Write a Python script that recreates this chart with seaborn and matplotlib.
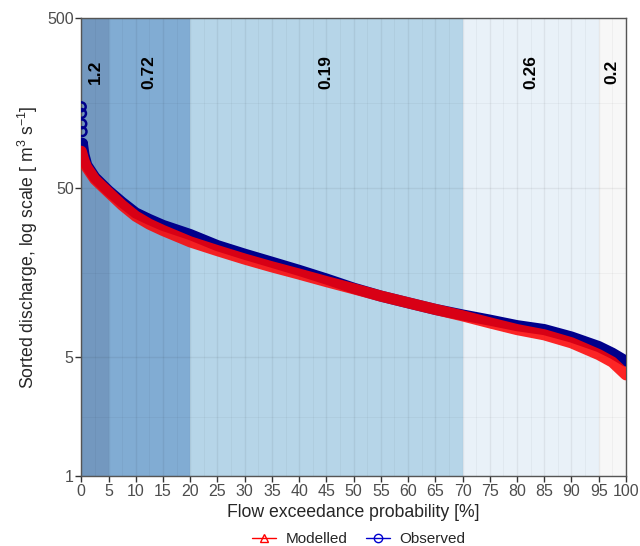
import numpy as np
import pandas as pd
import matplotlib
matplotlib.use("Agg")
import matplotlib.pyplot as plt
from matplotlib.lines import Line2D
import seaborn as sns

# exceedance probability [%] and sorted discharge
obs_p = [0, 0.05, 0.1, 0.15, 0.2, 0.5, 1, 2.5, 5, 7.5, 10, 12.5, 15, 20, 25, 30, 35,
         40, 45, 50, 55, 60, 65, 70, 75, 80, 85, 90, 95, 97.5, 100]
obs_q = [150, 137, 119, 107, 91, 78, 68, 57.5, 48, 41, 35.5, 32.5, 30, 26.5, 22.8, 20.3, 18.2,
         16.3, 14.5, 12.8, 11.5, 10.5, 9.6, 8.9, 8.3, 7.7, 7.3, 6.6, 5.8, 5.3, 4.75]
mod_p = [0, 0.5, 1, 2.5, 5, 7.5, 10, 12.5, 15, 20, 25, 30, 35, 40, 45, 50, 55, 60,
         65, 70, 75, 80, 85, 90, 95, 97.5, 100]
mod_q = [82, 72, 66, 56, 47, 39.5, 34, 30.5, 28, 24, 21.3, 19, 17.1, 15.5, 14, 12.7, 11.5, 10.5,
         9.6, 8.8, 8.0, 7.3, 6.8, 6.1, 5.2, 4.7, 3.95]

# flow segments and their labels
seg_lo = [0, 5, 20, 70, 95]
seg_hi = [5, 20, 70, 95, 100]
seg_lab = ["1.2", "0.72", "0.19", "0.26", "0.2"]
seg_col = ["#7398bf", "#81acd3", "#b6d5e8", "#e9f1f8", "#f7f7f7"]

df = pd.concat([
    pd.DataFrame({"p": mod_p, "q": mod_q, "series": "Modelled"}),
    pd.DataFrame({"p": obs_p, "q": obs_q, "series": "Observed"}),
])
obs = df[df.series == "Observed"]
mod = df[df.series == "Modelled"]

sns.set_theme(style="ticks")
plt.rcParams["font.family"] = ["Liberation Sans", "DejaVu Sans"]
plt.rcParams["mathtext.fontset"] = "custom"
plt.rcParams["mathtext.rm"] = "Liberation Sans"
plt.rcParams["mathtext.it"] = "Liberation Sans"

fig = plt.figure(figsize=(6.4, 5.46), dpi=100)
ax = fig.add_axes([0.127, 0.128, 0.851, 0.839])

for lo, hi, c in zip(seg_lo, seg_hi, seg_col):
    ax.axvspan(lo, hi, color=c, lw=0, zorder=0.5)

# the steep top of the observed curve shows as single circles
sns.lineplot(data=obs.iloc[4:], x="p", y="q", color="#00008b",
             lw=8, ax=ax, legend=False, zorder=3, solid_capstyle="round")
sns.scatterplot(data=obs.iloc[:5], x="p", y="q", marker="o", facecolor="none",
                edgecolor="#00008b", s=40, linewidth=1.8, ax=ax, legend=False, zorder=3)
sns.lineplot(data=mod, x="p", y="q", color="#ff0000",
             lw=8, alpha=0.85, ax=ax, legend=False, zorder=4, solid_capstyle="round")

ax.set_yscale("log")
ax.set_xlim(0, 100)
ax.set_ylim(1, 500)
ax.set_xticks(np.arange(0, 101, 5))
ax.set_xticks(np.arange(2.5, 100, 5), minor=True)
ax.set_yticks([1, 5, 50, 500])
ax.set_yticklabels(["1", "5", "50", "500"])
ax.set_yticks([np.sqrt(5), np.sqrt(250), np.sqrt(25000)], minor=True)
ax.yaxis.set_minor_formatter(matplotlib.ticker.NullFormatter())
ax.tick_params(which="minor", length=0)
ax.tick_params(which="major", length=4, width=1, color="#333333",
               labelcolor="#4d4d4d", labelsize=11.5, pad=1.5)

ax.set_axisbelow("line")
ax.grid(which="major", color="#000000", alpha=0.06, lw=1)
ax.grid(which="minor", color="#000000", alpha=0.035, lw=0.8)

for s in ax.spines.values():
    s.set_color("#555555")
    s.set_linewidth(1)

for lo, hi, lab in zip(seg_lo, seg_hi, seg_lab):
    ax.text((lo + hi) / 2, 240, lab, rotation=90, ha="center", va="center",
            fontsize=12.5, fontweight="bold", color="black", zorder=5)

ax.set_xlabel("Flow exceedance probability [%]", fontsize=12.7, labelpad=4)
ax.set_ylabel(r"Sorted discharge, log scale [ m$^3$ s$^{-1}$]", fontsize=12.7, labelpad=5)

handles = [
    Line2D([], [], color="#ff0000", marker="^", mfc="none", ms=6, lw=1),
    Line2D([], [], color="#0000cd", marker="o", mfc="none", ms=6, lw=1),
]
fig.legend(handles, ["Modelled", "Observed"], loc="center", bbox_to_anchor=(0.56, 0.013),
           ncol=2, frameon=False, fontsize=11, handlelength=1.6, columnspacing=1.2,
           handletextpad=0.6, borderaxespad=0, borderpad=0)

fig.savefig("out.png", dpi=100)
